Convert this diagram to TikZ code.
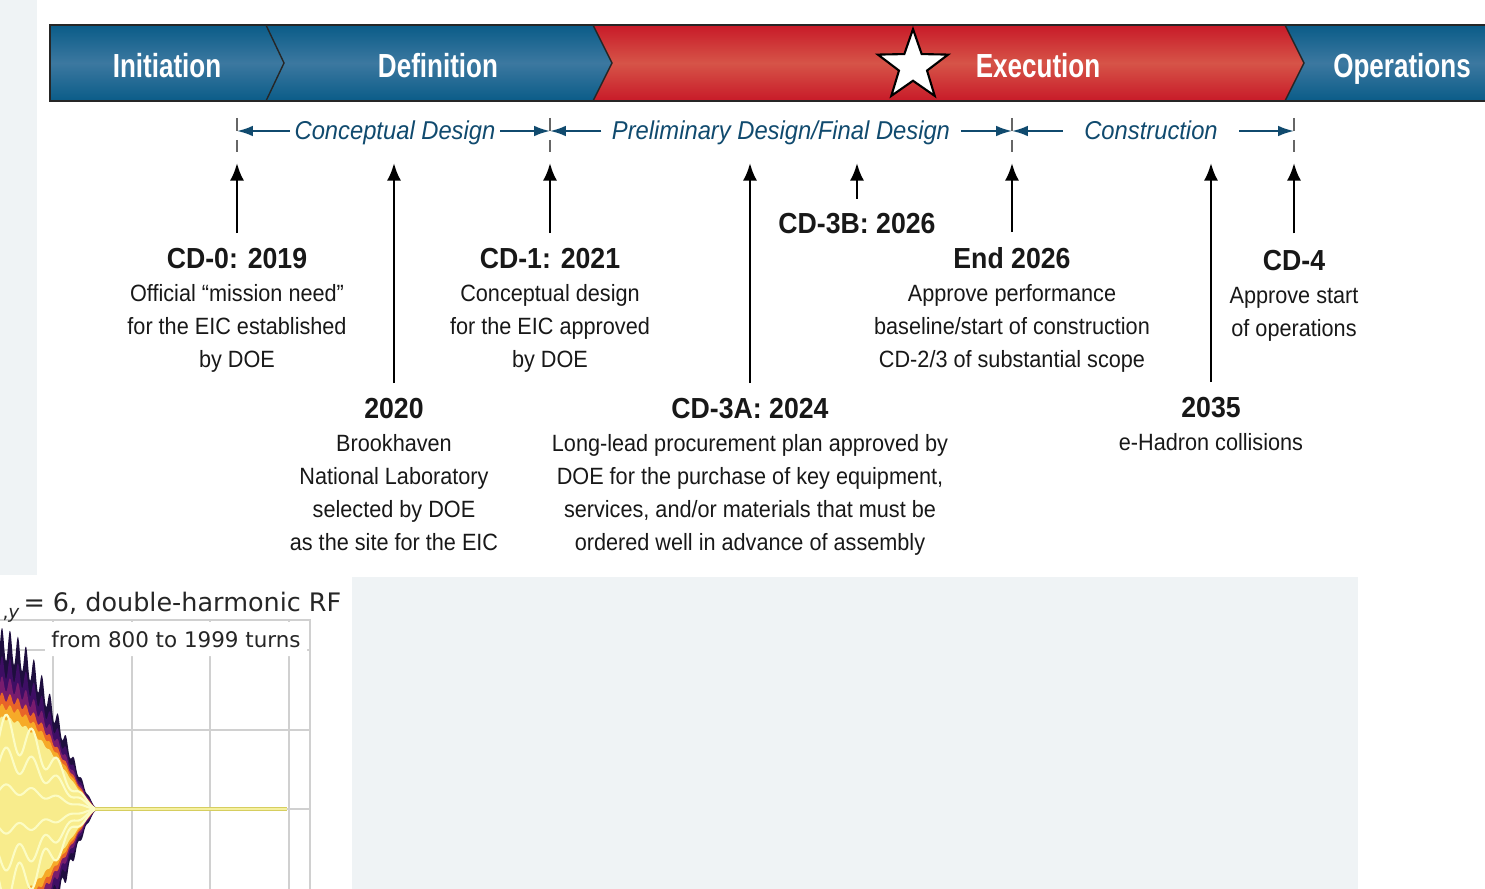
\documentclass[tikz,border=0pt]{standalone}
\usepackage{fontspec}
\setmainfont{Liberation Sans}[FakeStretch=0.92]
\newfontfamily\barfont{Liberation Sans}[FakeStretch=0.78]
\newfontfamily\plotfont{DejaVu Sans}
\usetikzlibrary{arrows.meta,shapes.geometric}

\definecolor{eicblue}{RGB}{10,92,136}
\definecolor{eicbluelt}{RGB}{60,120,160}
\definecolor{eicred}{RGB}{200,26,40}
\definecolor{eicredlt}{RGB}{214,84,72}
\definecolor{phaseblue}{RGB}{16,74,110}
\definecolor{inkgrey}{RGB}{24,24,24}
\definecolor{panelgrey}{RGB}{239,243,245}
\definecolor{gridgrey}{RGB}{208,208,208}
\definecolor{plotink}{RGB}{38,38,38}
\definecolor{infA}{RGB}{30,14,62}
\definecolor{infB}{RGB}{62,14,100}
\definecolor{infC}{RGB}{120,28,110}
\definecolor{infD}{RGB}{232,100,40}
\definecolor{infE}{RGB}{246,170,40}
\definecolor{infF}{RGB}{248,236,140}
\definecolor{infG}{RGB}{252,252,196}
\definecolor{lineyel}{RGB}{214,206,96}
\definecolor{lineyellt}{RGB}{245,240,160}

\newcommand{\mstitle}[1]{{\fontsize{16.5}{18.7}\selectfont\bfseries #1}}

\tikzset{
  barlabel/.style={text=white, font=\barfont\fontsize{19}{19}\selectfont\bfseries, inner sep=0pt},
  barline/.style={draw=black!85, line width=0.8pt},
  period/.style={text=phaseblue, font=\fontsize{14.7}{14.7}\selectfont\itshape, inner ysep=0pt},
  period arrow/.style={draw=phaseblue, line width=1.1pt, -{Latex[length=9pt,width=6pt]}},
  phasetick/.style={draw=black!60, line width=0.6pt, dash pattern=on 7.4pt off 5.1pt},
  milestone/.style={text=inkgrey, font=\fontsize{13.4}{18.7}\selectfont, align=center, inner sep=0pt},
  cdarrow/.style={draw=black, line width=1.5pt, -{Latex[length=10pt,width=8pt]}},
  gridline/.style={draw=gridgrey, line width=0.75pt},
  spine/.style={draw=gridgrey, line width=0.9pt},
  declare function={env(\t)=165*max(0,1-(\t/98)*(\t/98))*sqrt(max(0,1-(\t/98)*(\t/98)));}
}

\begin{document}
\begin{tikzpicture}[x=0.02cm, y=-0.02cm, >=Latex, thick]
  \useasboundingbox (0,0) rectangle (1485,889);

  % Fondi grigi
  \fill[panelgrey] (0,0) rectangle (37,575);
  \fill[panelgrey] (352,577) rectangle (1358,889);

  % Barra delle fasi
  \shade[top color=eicblue, bottom color=eicblue, middle color=eicbluelt]
    (50,25) -- (266,25) -- (284,63) -- (266,101) -- (50,101) -- cycle;
  \shade[top color=eicblue, bottom color=eicblue, middle color=eicbluelt]
    (266,25) -- (593,25) -- (612,63) -- (593,101) -- (266,101) -- (284,63) -- cycle;
  \shade[top color=eicred, bottom color=eicred, middle color=eicredlt]
    (593,25) -- (1285,25) -- (1304,63) -- (1285,101) -- (593,101) -- (612,63) -- cycle;
  \shade[top color=eicblue, bottom color=eicblue, middle color=eicbluelt]
    (1285,25) -- (1485,25) -- (1485,101) -- (1285,101) -- (1304,63) -- cycle;
  \draw[barline] (266,25) -- (284,63) -- (266,101);
  \draw[barline] (593,25) -- (612,63) -- (593,101);
  \draw[barline] (1285,25) -- (1304,63) -- (1285,101);
  \draw[barline, line width=1.1pt] (1485,25) -- (50,25) -- (50,101) -- (1485,101);

  \node[barlabel, anchor=base] (init) at (167,77) {Initiation};
  \node[barlabel, anchor=base] (defn) at (438,77) {Definition};
  \node[barlabel, anchor=base] (exec) at (1038,77) {Execution};
  \node[barlabel, anchor=base] (oper) at (1402,77) {Operations};
  \node[star, star points=5, star point ratio=2.5, minimum size=42pt, inner sep=0pt,
        fill=white, draw=black, line width=1.2pt] (flag) at (913,66) {};

  % Periodi sotto la barra
  \coordinate (k0) at (237,131);
  \coordinate (k1) at (550,131);
  \coordinate (k2) at (1012,131);
  \coordinate (k3) at (1294,131);
  \draw[phasetick] ([yshift=7.4pt]k0) -- ([yshift=-11.9pt]k0);
  \draw[phasetick] ([yshift=7.4pt]k1) -- ([yshift=-11.9pt]k1);
  \draw[phasetick] ([yshift=7.4pt]k2) -- ([yshift=-11.9pt]k2);
  \draw[phasetick] ([yshift=7.4pt]k3) -- ([yshift=-11.9pt]k3);

  \node[period, inner xsep=2.3pt, anchor=base] (pCD) at (395,139.5) {Conceptual Design};
  \draw[period arrow] (pCD.west |- k0) -- (k0);
  \draw[period arrow] (pCD.east |- k1) -- (k1);

  \node[period, inner xsep=5.7pt, anchor=base] (pPD) at (781,139.5) {Preliminary Design/Final Design};
  \draw[period arrow] (pPD.west |- k1) -- (k1);
  \draw[period arrow] (pPD.east |- k2) -- (k2);

  \node[period, inner xsep=12pt, anchor=base] (pCo) at (1151,139.5) {Construction};
  \draw[period arrow] (pCo.west |- k2) -- (k2);
  \draw[period arrow] (pCo.east |- k3) -- (k3);

  % Tappe (CD)
  \coordinate (t0) at (237,163);
  \coordinate (t1) at (394,163);
  \coordinate (t2) at (550,163);
  \coordinate (t3) at (750,163);
  \coordinate (t4) at (857,163);
  \coordinate (t5) at (1012,163);
  \coordinate (t6) at (1211,163);
  \coordinate (t7) at (1294,163);

  \node[milestone, anchor=north] (cd0) at (237,248)
    {\mstitle{CD-0: 2019}\\Official “mission need”\\for the EIC established\\by DOE};
  \draw[cdarrow] ([yshift=8.5pt]cd0.north) -- (t0);

  \node[milestone, anchor=north] (y2020) at (394,398)
    {\mstitle{2020}\\Brookhaven\\National Laboratory\\selected by DOE\\as the site for the EIC};
  \draw[cdarrow] ([yshift=8.5pt]y2020.north) -- (t1);

  \node[milestone, anchor=north] (cd1) at (550,248)
    {\mstitle{CD-1: 2021}\\Conceptual design\\for the EIC approved\\by DOE};
  \draw[cdarrow] ([yshift=8.5pt]cd1.north) -- (t2);

  \node[milestone, anchor=north] (cd3a) at (750,398)
    {\mstitle{CD-3A: 2024}\\Long-lead procurement plan approved by\\DOE for the purchase of key equipment,\\services, and/or materials that must be\\ordered well in advance of assembly};
  \draw[cdarrow] ([yshift=8.5pt]cd3a.north) -- (t3);

  \node[milestone, anchor=north] (cd3b) at (857,213) {\mstitle{CD-3B: 2026}};
  \draw[cdarrow] ([yshift=8pt]cd3b.north) -- (t4);

  \node[milestone, anchor=north] (end26) at (1012,247)
    {\mstitle{End 2026}\\Approve performance\\baseline/start of construction\\CD-2/3 of substantial scope};
  \draw[cdarrow] ([yshift=8.5pt]end26.north) -- (t5);

  \node[milestone, anchor=north] (y2035) at (1211,397)
    {\mstitle{2035}\\e-Hadron collisions};
  \draw[cdarrow] ([yshift=8.5pt]y2035.north) -- (t6);

  \node[milestone, anchor=north] (cd4) at (1294,250)
    {\mstitle{CD-4}\\Approve start\\of operations};
  \draw[cdarrow] ([yshift=9.5pt]cd4.north) -- (t7);

  % Frammento di grafico in basso a sinistra
  \begin{scope}
    \clip (0,577) rectangle (352,889);
    \draw[gridline] (0,650) -- (310,650);
    \draw[gridline] (0,730) -- (310,730);
    \draw[gridline] (0,809) -- (310,809);
    \foreach \gx in {53,132,210,289}
      \draw[gridline] (\gx,620) -- (\gx,889);
    \foreach \s/\r/\c in {1/0.1/infA, 0.86/0.08/infB, 0.76/0.06/infC, 0.68/0.04/infD, 0.62/0.03/infE, 0.55/0.02/infF}
      \fill[\c] plot[domain=-5:98, samples=100, smooth] (\x, {809-\s*env(\x)*(1+\r*sin(\x*45))})
        -- plot[domain=98:-5, samples=100, smooth] (\x, {809+\s*env(\x)*(1+\r*sin(\x*45))}) -- cycle;
    \foreach \s in {0.12,0.3,0.46}
      \draw[infG, line width=1.2pt] plot[domain=-5:98, samples=80, smooth] (\x, {809-\s*env(\x)*(1+0.25*sin(\x*14))})
        plot[domain=-5:98, samples=80, smooth] (\x, {809+\s*env(\x)*(1+0.25*sin(\x*14))});
    \draw[lineyel, line width=2.6pt] (95,809) -- (287,809);
    \draw[lineyellt, line width=1.4pt] (95,809) -- (287,809);
    \fill[white, rounded corners=2pt] (45,622) rectangle (307,656);
    \node[text=plotink, font=\plotfont\fontsize{12.2}{12.2}\selectfont, anchor=base] (legend) at (176,647)
      {from 800 to 1999 turns};
    \draw[spine] (0,620) -- (310,620) -- (310,889);
    \node[text=plotink, font=\plotfont\fontsize{14.5}{14.5}\selectfont, anchor=base east, inner sep=0pt] (ptitle) at (342,611)
      {\raisebox{-4pt}{\fontsize{10.5}{10.5}\selectfont,\itshape y}\,= 6, double-harmonic RF};
  \end{scope}

\end{tikzpicture}
\end{document}
